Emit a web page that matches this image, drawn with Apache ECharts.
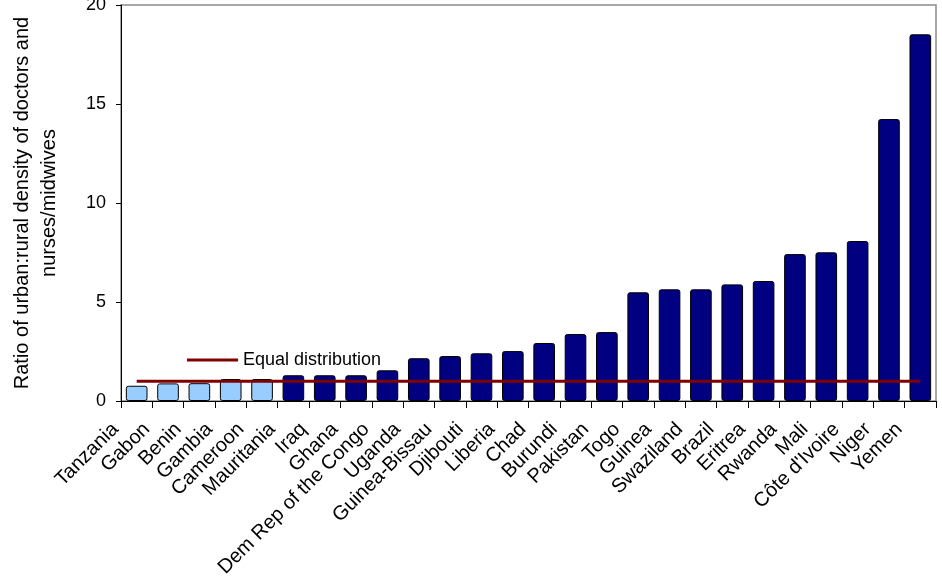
<!DOCTYPE html>
<html>
<head>
<meta charset="utf-8">
<title>Urban:rural ratio of health workers</title>
<script src="https://cdn.jsdelivr.net/npm/echarts@6/dist/echarts.min.js"></script>
<style>
  html, body { margin: 0; padding: 0; background: #fff; }
  #main { width: 942px; height: 579px; }
</style>
</head>
<body>
<div id="main"></div>
<script>
// countries, sorted by ratio
var countries = ['Tanzania', 'Gabon', 'Benin', 'Gambia', 'Cameroon', 'Mauritania', 'Iraq', 'Ghana',
  'Dem Rep of the Congo', 'Uganda', 'Guinea-Bissau', 'Djibouti', 'Liberia', 'Chad', 'Burundi',
  'Pakistan', 'Togo', 'Guinea', 'Swaziland', 'Brazil', 'Eritrea', 'Rwanda', 'Mali',
  'Côte d\'Ivoire', 'Niger', 'Yemen'];

// urban:rural density ratio
var ratios = [0.77, 0.89, 0.90, 1.11, 1.11, 1.30, 1.30, 1.30, 1.55, 2.16, 2.27, 2.41, 2.52,
  2.93, 3.38, 3.48, 5.49, 5.64, 5.64, 5.89, 6.06, 7.42, 7.51, 8.08, 14.24, 18.52];

// reference line: ratio 1 = equal distribution
var equalLine = [1, 1, 1, 1, 1, 1, 1, 1, 1, 1, 1, 1, 1, 1, 1, 1, 1, 1, 1, 1, 1, 1, 1, 1, 1, 1];

// countries drawn in the light colour
var lightCountries = ['Tanzania', 'Gabon', 'Benin', 'Gambia', 'Cameroon'];

var yTicks = [0, 5, 10, 15, 20];

var FONT = 'Liberation Sans, Arial, sans-serif';

var myChart = echarts.init(document.getElementById('main'));

var barData = ratios.map(function (v, i) {
  var light = lightCountries.indexOf(countries[i]) >= 0;
  return { value: v, itemStyle: { color: light ? '#99ccff' : '#000080' } };
});

var option = {
  backgroundColor: '#fff',
  animation: false,
  textStyle: { fontFamily: FONT },
  grid: {
    left: 121, right: 6, top: 5, bottom: 178,
    outerBoundsMode: 'none',
    containLabel: false,
    show: true,
    borderColor: '#8c8c8c',
    borderWidth: 1.5,
    backgroundColor: '#fff'
  },
  legend: {
    data: ['Equal distribution'],
    left: 187,
    top: 351,
    padding: 0,
    icon: 'rect',
    itemWidth: 51,
    itemHeight: 3,
    textStyle: { fontFamily: FONT, fontSize: 18, color: '#000' }
  },
  xAxis: {
    type: 'category',
    data: countries,
    axisLine: { lineStyle: { color: '#000', width: 1 } },
    axisTick: { show: true, length: 7, lineStyle: { color: '#000' } },
    axisLabel: {
      interval: 0,
      rotate: 45,
      margin: 4,
      fontFamily: FONT,
      fontSize: 20,
      color: '#000',
      // trailing spacer pushes the text down-left along its own direction
      formatter: function (v) { return v + '{s| }'; },
      rich: { s: { width: 30, fontSize: 20 } }
    }
  },
  yAxis: {
    type: 'value',
    min: yTicks[0],
    max: yTicks[yTicks.length - 1],
    interval: 5,
    name: 'Ratio of urban:rural density of doctors and\nnurses/midwives',
    nameLocation: 'middle',
    nameRotate: 90,
    nameGap: 58,
    nameTextStyle: { fontFamily: FONT, fontSize: 20, color: '#000', lineHeight: 27 },
    axisLine: { show: true, lineStyle: { color: '#000', width: 1 } },
    axisTick: { show: true, length: 5, lineStyle: { color: '#000' } },
    axisLabel: { margin: 15, fontFamily: FONT, fontSize: 18, color: '#000' },
    splitLine: { show: false }
  },
  series: [{
    name: 'Ratio',
    type: 'bar',
    barCategoryGap: '31%',
    itemStyle: { borderColor: '#000', borderWidth: 1, borderRadius: 2 },
    data: barData,
    z: 2
  }, {
    name: 'Equal distribution',
    type: 'line',
    symbol: 'none',
    color: '#800000',
    lineStyle: { color: '#800000', width: 3 },
    data: equalLine,
    z: 3
  }]
};

myChart.setOption(option);
</script>
</body>
</html>
